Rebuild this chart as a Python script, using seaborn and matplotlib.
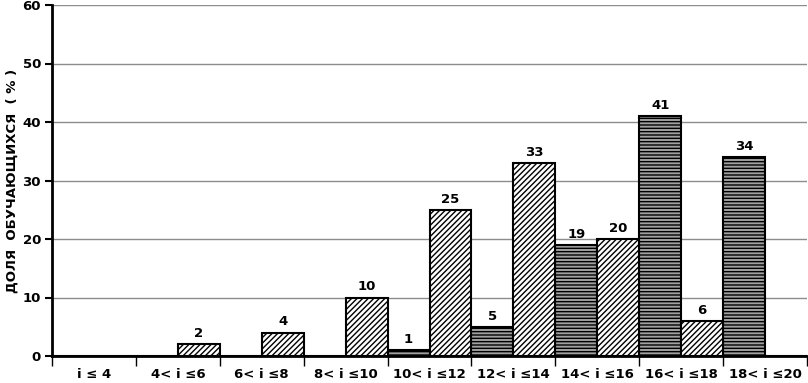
import matplotlib
matplotlib.use("Agg")
import matplotlib.pyplot as plt
import seaborn as sns
import pandas as pd
import numpy as np

categories = ["i ≤ 4", "4< i ≤6", "6< i ≤8", "8< i ≤10", "10< i ≤12",
              "12< i ≤14", "14< i ≤16", "16< i ≤18", "18< i ≤20"]
series_names = ["A", "B"]
values_a = [0, 0, 0, 0, 1, 5, 19, 41, 34]   # horizontal hatch (left)
values_b = [0, 2, 4, 10, 25, 33, 20, 6, 0]  # diagonal hatch (right)
y_ticks = [0, 10, 20, 30, 40, 50, 60]
y_label = "ДОЛЯ  ОБУЧАЮЩИХСЯ  ( % )"

df = pd.DataFrame({
    "cat": categories * 2,
    "series": [series_names[0]] * len(categories) + [series_names[1]] * len(categories),
    "val": values_a + values_b,
})

sns.set_theme(style="white")
plt.rcParams["font.family"] = ["DejaVu Sans"]
plt.rcParams["text.color"] = "black"
plt.rcParams["axes.labelcolor"] = "black"
plt.rcParams["xtick.color"] = "black"
plt.rcParams["ytick.color"] = "black"
plt.rcParams["hatch.linewidth"] = 1.0

fig = plt.figure(figsize=(8.08, 3.83), dpi=100)
ax = fig.add_axes([52 / 808, 1 - 356 / 383, (807 - 52) / 808, (356 - 5) / 383])

sns.barplot(data=df, x="cat", y="val", hue="series", order=categories,
            hue_order=series_names, width=1.0, gap=0, dodge=True,
            palette=["#a0a0a0", "white"], edgecolor="black", linewidth=1.5,
            legend=False, ax=ax, zorder=3)

hatches = ["-----", "//////"]
for cont, h, vals in zip(ax.containers, hatches, [values_a, values_b]):
    for p in cont.patches:
        p.set_hatch(h)
    labels = [str(v) if v != 0 else "" for v in vals]
    ax.bar_label(cont, labels=labels, padding=3, fontsize=9.5, fontweight="bold", color="black")

ax.set_xlim(-0.5, len(categories) - 0.5)
ax.set_ylim(0, 60)
ax.set_yticks(y_ticks)
ax.set_yticklabels([str(t) for t in y_ticks], fontsize=9.5, fontweight="bold")
ax.set_xticks(range(len(categories)))
ax.set_xticklabels(categories, fontsize=9.5, fontweight="bold")
ax.set_xticks(np.arange(-0.5, len(categories), 1.0), minor=True)
ax.tick_params(axis="x", which="major", length=0, pad=9)
ax.tick_params(axis="x", which="minor", length=7, width=1, color="black", direction="out", bottom=True)
ax.tick_params(axis="y", which="major", length=5, width=1.5, color="black", direction="out", left=True, pad=3)
ax.set_xlabel("")
ax.set_ylabel(y_label, fontsize=9.5, fontweight="bold")
ax.yaxis.set_label_coords(-0.044, 0.5)

ax.yaxis.grid(True, color="#8c8c8c", linewidth=1.0, zorder=0)
ax.set_axisbelow(True)
for s in ["top", "right"]:
    ax.spines[s].set_visible(False)
for s in ["left", "bottom"]:
    ax.spines[s].set_color("black")
    ax.spines[s].set_linewidth(2)

fig.savefig("out.png", dpi=100)
